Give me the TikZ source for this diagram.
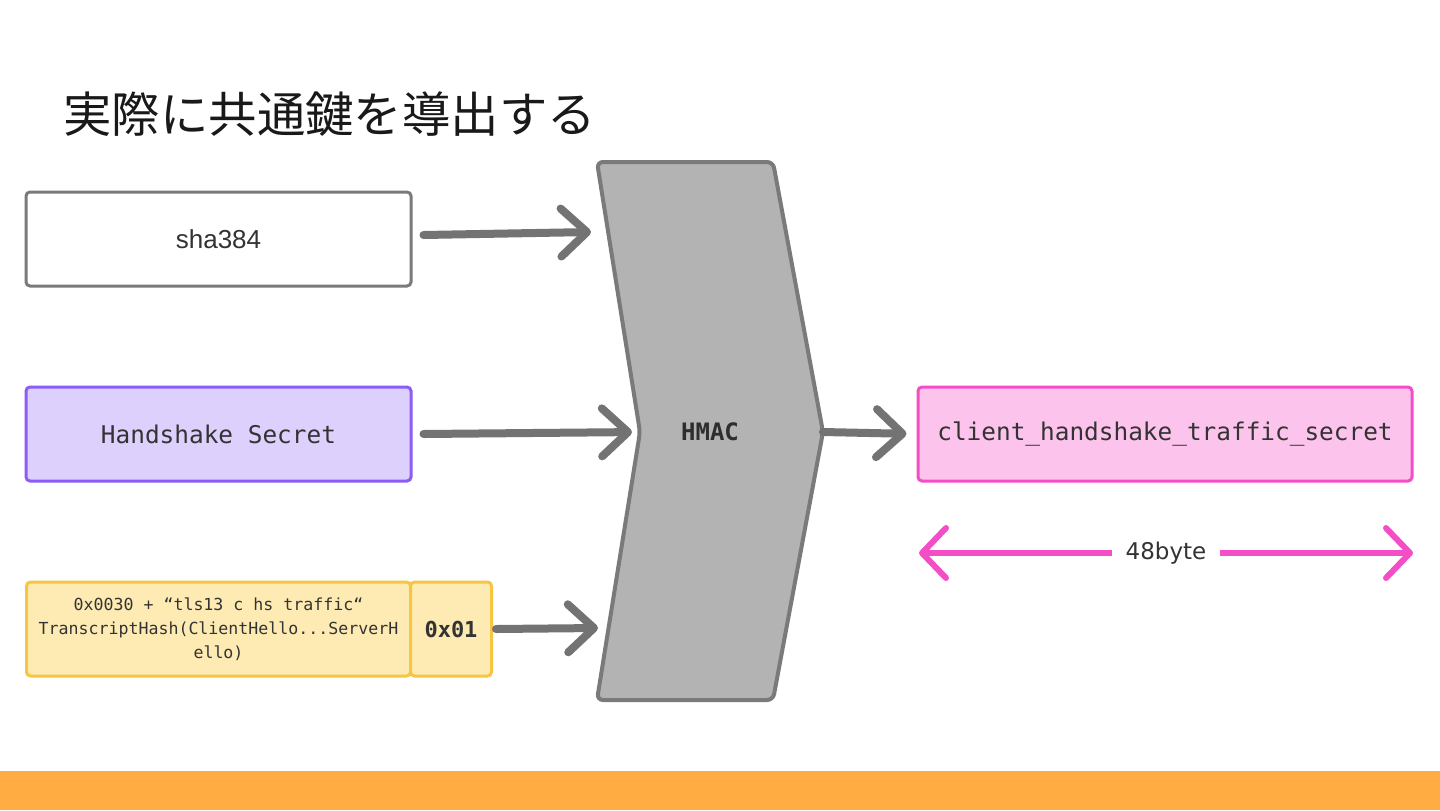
\documentclass[tikz,border=0pt]{standalone}
\usepackage{fontspec}
\usetikzlibrary{arrows.meta,positioning}
\setmainfont{DejaVu Sans}
\setmonofont{DejaVu Sans Mono}
\newfontfamily\jpfont{Noto Sans CJK JP}
\newfontfamily\roundfont{Liberation Sans}
\definecolor{boxgray}{HTML}{7A7A7A}
\definecolor{arrowgray}{HTML}{737373}
\definecolor{hmacfill}{HTML}{B3B3B3}
\definecolor{hsfill}{HTML}{DDD0FD}
\definecolor{hsdraw}{HTML}{8B5CF6}
\definecolor{lblfill}{HTML}{FEEBB3}
\definecolor{lbldraw}{HTML}{F6C543}
\definecolor{ctfill}{HTML}{FCC3EC}
\definecolor{ctdraw}{HTML}{F44EC6}
\definecolor{barorange}{HTML}{FFAD42}
\definecolor{ink}{HTML}{333333}
\begin{document}
\begin{tikzpicture}[x=0.5pt,y=-0.5pt,
   box/.style={draw=boxgray,fill=white,line width=1.5pt,rounded corners=2pt,
     minimum width=192.5pt,minimum height=47pt,inner sep=0pt,text=ink,
     font=\ttfamily\fontsize{12.2}{14}\selectfont},
   flow/.style={draw=arrowgray,line width=4pt,line cap=round,
     -{Straight Barb[length=13pt,width=24pt,round]}},
   sizearrow/.style={draw=ctdraw,line width=3pt,line cap=round,
     {Straight Barb[length=12pt,width=25pt,round]}-{Straight Barb[length=12pt,width=25pt,round]}}]
\useasboundingbox (0,0) rectangle (1440,810);
\fill[barorange] (0,771) rectangle (1440,810);
\node[anchor=west,inner sep=0pt,font=\jpfont\fontsize{24.2}{28}\selectfont,text=black!90] (title) at (63,114) {実際に共通鍵を導出する};
\node[box,font=\roundfont\fontsize{13}{15}\selectfont] (sha) at (218.5,239) {sha384};
\node[box,fill=hsfill,draw=hsdraw,below=49pt of sha] (hs) {Handshake Secret};
\node[box,fill=lblfill,draw=lbldraw,minimum width=192pt,below=49pt of hs,align=center,
   font=\ttfamily\fontsize{8.3}{12}\selectfont] (label)
   {0x0030 + “tls13 c hs traffic“\\TranscriptHash(ClientHello...ServerH\\ello)};
\node[box,fill=lblfill,draw=lbldraw,minimum width=40.5pt,right=-1.5pt of label,
   font=\ttfamily\bfseries\fontsize{11}{13}\selectfont] (ctr) {0x01};
\draw[fill=hmacfill,draw=boxgray,line width=2pt,rounded corners=3pt]
   (597,162) -- (773,162) -- (823,432) -- (773,700) -- (597,700) -- (640,432) -- cycle;
\coordinate (notch) at (640,432);
\coordinate (tip) at (823,432);
\node[font=\ttfamily\bfseries\fontsize{12}{14}\selectfont,text=ink!90!black] (hmac) at (710,432) {HMAC};
\node[box,fill=ctfill,draw=ctdraw,minimum width=247pt] (ctsecret) at (1165,434) {client\_handshake\_traffic\_secret};
\coordinate (in1) at (591,232);
\coordinate (in3) at (598,628);
\coordinate (szl) at (919,553);
\coordinate (szr) at (1413,553);
\draw[flow] ([xshift=5.5pt,yshift=2pt]sha.east) -- (in1);
\draw[flow,shorten >=4pt] ([xshift=5.5pt]hs.east) -- (notch);
\draw[flow] ([xshift=1.5pt]ctr.east) -- (in3);
\draw[flow,shorten >=5pt] (tip) -- (ctsecret.west);
\draw[sizearrow] (szl) -- node[fill=white,inner xsep=7pt,text=ink,font=\fontsize{11.5}{14}\selectfont] (size) {48byte} (szr);
\end{tikzpicture}
\end{document}
